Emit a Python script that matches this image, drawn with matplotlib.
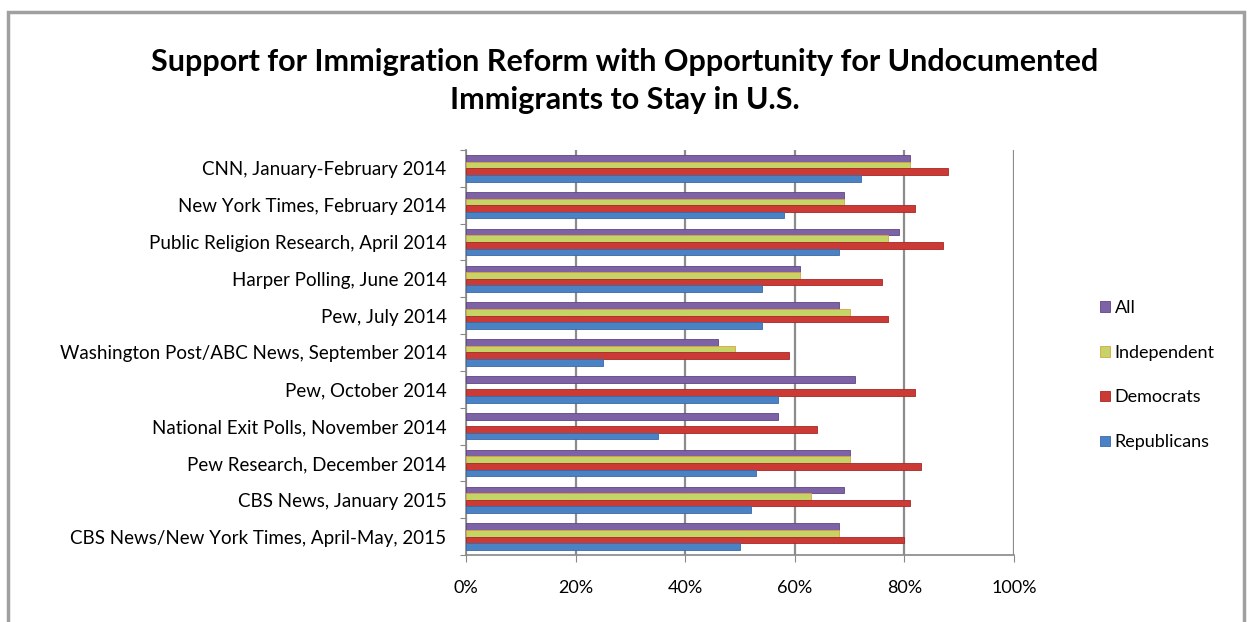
import numpy as np
import matplotlib
matplotlib.use("Agg")
import matplotlib.pyplot as plt
from matplotlib.patches import Rectangle

categories = [
    "CNN, January-February 2014",
    "New York Times, February 2014",
    "Public Religion Research, April 2014",
    "Harper Polling, June 2014",
    "Pew, July 2014",
    "Washington Post/ABC News, September 2014",
    "Pew, October 2014",
    "National Exit Polls, November 2014",
    "Pew Research, December 2014",
    "CBS News, January 2015",
    "CBS News/New York Times, April-May, 2015",
]
all_vals = [81, 69, 79, 61, 68, 46, 71, 57, 70, 69, 68]
independent = [81, 69, 77, 61, 70, 49, np.nan, np.nan, 70, 63, 68]
democrats = [88, 82, 87, 76, 77, 59, 82, 64, 83, 81, 80]
republicans = [72, 58, 68, 54, 54, 25, 57, 35, 53, 52, 50]
series_names = ["All", "Independent", "Democrats", "Republicans"]
x_ticks = [0, 20, 40, 60, 80, 100]
title = "Support for Immigration Reform with Opportunity for Undocumented\nImmigrants to Stay in U.S."

colors = ["#7D62A6", "#C5D467", "#CC3A36", "#4B82C4"]
edge = ["#5E4585", "#E0A040", "#A52825", "#3A68A8"]

plt.rcParams['font.family'] = ['Lato', 'DejaVu Sans']

fig = plt.figure(figsize=(12.49, 6.22), dpi=100)
# outer frame
fig.patches.append(Rectangle((8/1249, -0.02), (1244-8)/1249, 1 - 12/622 + 0.02,
                             transform=fig.transFigure, fill=False,
                             edgecolor="#A0A0A0", linewidth=2.5))

ax = fig.add_axes([466/1249, 1 - 555/622, (1014-466)/1249, (555-150)/622])

n = len(categories)
y = np.arange(n)
h = 0.18
offsets = [-0.27, -0.09, 0.09, 0.27]
data = [all_vals, independent, democrats, republicans]
for k, (vals, off) in enumerate(zip(data, offsets)):
    v = np.array(vals, dtype=float)
    mask = ~np.isnan(v)
    ax.barh(y[mask] + off, v[mask], height=h, color=colors[k],
            edgecolor=edge[k], linewidth=0.6, label=series_names[k], zorder=3)

ax.set_xlim(0, 100)
ax.set_ylim(n - 0.5, -0.5)
ax.set_xticks(x_ticks)
ax.set_xticklabels([f"{t}%" for t in x_ticks], fontsize=13)
ax.tick_params(axis='x', length=5, color="#888888", pad=13)
ax.set_yticks(np.arange(-0.5, n, 1.0))
ax.set_yticklabels([])
ax.tick_params(axis='y', which='major', length=4, color="#888888", direction='out')
ax.set_yticks(y, minor=True)
ax.set_yticklabels(categories, minor=True, fontsize=13.5)
ax.tick_params(axis='y', which='minor', length=0, pad=14)

ax.grid(axis='x', color="#8C8C8C", linewidth=1.6, zorder=1)
for s in ["top", "right"]:
    ax.spines[s].set_visible(False)
ax.spines["left"].set_color("#888888")
ax.spines["bottom"].set_color("#888888")
ax.spines["left"].set_linewidth(1.2)
ax.spines["bottom"].set_linewidth(1.2)

fig.text(0.5, 1 - 81/622, title, ha='center', va='center', fontsize=22,
         fontweight='bold', linespacing=1.4)

handles, labels = ax.get_legend_handles_labels()
leg = fig.legend(handles, labels, loc='center left',
                 bbox_to_anchor=(1084/1249, 1 - 375/622), frameon=False,
                 fontsize=13, handlelength=0.55, handleheight=0.55,
                 handletextpad=0.25, labelspacing=1.6)

fig.savefig("out.png", dpi=100)
